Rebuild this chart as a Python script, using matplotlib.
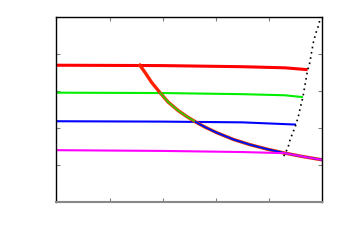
import matplotlib
matplotlib.use("Agg")
import matplotlib.pyplot as plt

# Horizontal branches (x, y)
red_x = [0.0, 2.0, 3.5, 4.3, 4.73]
red_y = [3.70, 3.69, 3.66, 3.63, 3.58]
green_x = [0.0, 2.0, 3.5, 4.3, 4.64]
green_y = [2.96, 2.95, 2.92, 2.89, 2.84]
blue_x = [0.0, 2.0, 3.5, 4.51]
blue_y = [2.19, 2.18, 2.16, 2.10]
magenta_x = [0.0, 2.0, 3.5, 4.27]
magenta_y = [1.41, 1.39, 1.36, 1.33]

# Common descending curve
curve_x = [1.57, 1.67, 1.79, 1.95, 2.10, 2.29, 2.45, 2.62, 2.80, 3.02, 3.33, 3.64, 3.96, 4.27, 4.59, 5.0]
curve_y = [3.70, 3.50, 3.24, 2.96, 2.71, 2.48, 2.32, 2.17, 2.03, 1.88, 1.70, 1.56, 1.44, 1.34, 1.25, 1.15]

# Dotted boundary
dot_x = [4.28, 4.36, 4.40, 4.45, 4.51, 4.56, 4.59, 4.64, 4.73, 4.76, 4.81, 4.84, 4.88, 4.94, 4.97]
dot_y = [1.25, 1.48, 1.70, 1.88, 2.10, 2.35, 2.55, 2.84, 3.58, 3.69, 4.10, 4.33, 4.55, 4.79, 5.0]

xticks = [0, 1, 2, 3, 4, 5]
yticks = [0, 1, 2, 3, 4, 5]

fig = plt.figure(figsize=(3.5, 2.53), dpi=100)
ax = fig.add_axes([0.1614, 0.1957, 0.7586, 0.7332])

def seg(xs, ys, x0, y0):
    px, py = [x0], [y0]
    for a, b in zip(xs, ys):
        if a > x0 + 1e-9:
            px.append(a); py.append(b)
    return px, py

ax.plot(red_x, red_y, color="#ff0000", lw=2.2, solid_capstyle="butt")
ax.plot(green_x, green_y, color="#00ee00", lw=1.5, solid_capstyle="butt")
ax.plot(blue_x, blue_y, color="#0000ff", lw=1.5, solid_capstyle="butt")

ax.plot(curve_x, curve_y, color="#ff2000", lw=2.4, solid_joinstyle="round")
gx, gy = seg(curve_x, curve_y, 1.95, 2.96)
ax.plot(gx, gy, color="#33cc00", lw=1.3, solid_joinstyle="round")
bx, by = seg(curve_x, curve_y, 2.62, 2.17)
ax.plot(bx, by, color="#0000ff", lw=1.3, solid_joinstyle="round")
mx, my = seg(curve_x, curve_y, 4.27, 1.34)
ax.plot(magenta_x, magenta_y, color="#ff00ff", lw=1.5, solid_capstyle="butt")
ax.plot(mx, my, color="#ff00ff", lw=1.3)

ax.plot(dot_x, dot_y, color="black", lw=1.2, linestyle=(0, (1, 2.2)))

ax.set_xlim(0, 5)
ax.set_ylim(0, 5)
ax.set_xticks(xticks)
ax.set_yticks(yticks)
ax.set_xticklabels([])
ax.set_yticklabels([])
ax.tick_params(direction="in", length=3, width=0.8, color="#808080",
               top=True, right=True)
for s in ["left", "top", "right"]:
    ax.spines[s].set_color("black")
    ax.spines[s].set_linewidth(1.0)
ax.spines["bottom"].set_color("#888888")
ax.spines["bottom"].set_linewidth(1.5)

fig.savefig("out.png", dpi=100)
